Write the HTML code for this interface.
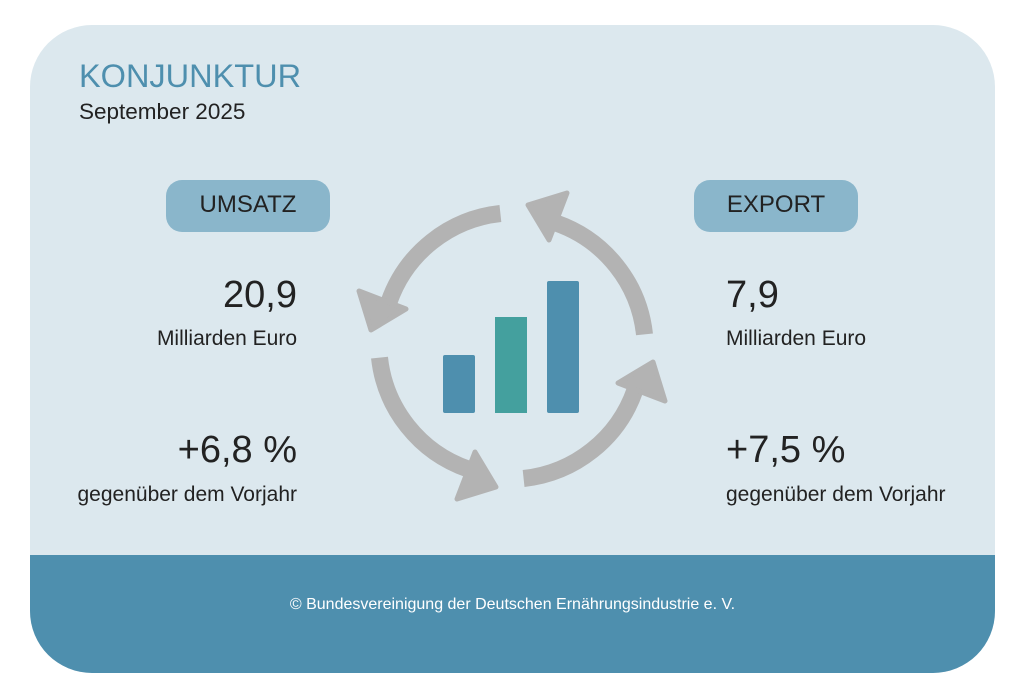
<!DOCTYPE html>
<html><head><meta charset="utf-8"><style>
body{margin:0;width:1024px;height:698px;background:#fff;position:relative;overflow:hidden;font-family:"Liberation Sans",sans-serif}
.card{position:absolute;left:30px;top:25px;width:965px;height:648px;border-radius:62px;background:#dce8ee;overflow:hidden}
.foot{position:absolute;left:0;top:530px;width:965px;height:118px;background:#4e8fae;color:#fff;font-size:16px;text-align:center;line-height:100px}
.t{position:absolute;white-space:nowrap;color:#222}
.pill{position:absolute;width:164px;height:52px;border-radius:16px;background:#8ab6cb;color:#222;font-size:24px;text-align:center;line-height:50px}
.r{text-align:right;width:300px}
</style></head><body>
<div class="card">
<div class="foot">© Bundesvereinigung der Deutschen Ernährungsindustrie e. V.</div>
</div>
<div class="t" style="left:79px;top:58px;font-size:32.5px;color:#4e8fae">KONJUNKTUR</div>
<div class="t" style="left:79px;top:99px;font-size:22.5px">September 2025</div>
<div class="pill" style="left:166px;top:180px">UMSATZ</div>
<div class="pill" style="left:694px;top:180px">EXPORT</div>
<div class="t r" style="left:-3px;top:274px;font-size:38px">20,9</div>
<div class="t r" style="left:-3px;top:327px;font-size:21px">Milliarden Euro</div>
<div class="t r" style="left:-3px;top:429px;font-size:38px">+6,8 %</div>
<div class="t r" style="left:-3px;top:483px;font-size:21px">gegenüber dem Vorjahr</div>
<div class="t" style="left:726px;top:274px;font-size:38px">7,9</div>
<div class="t" style="left:726px;top:327px;font-size:21px">Milliarden Euro</div>
<div class="t" style="left:726px;top:429px;font-size:38px">+7,5 %</div>
<div class="t" style="left:726px;top:483px;font-size:21px">gegenüber dem Vorjahr</div>
<svg width="1024" height="698" style="position:absolute;left:0;top:0">
<defs><g id="a">
<path d="M500.4,213.5 A133,133 0 0 0 389,302" fill="none" stroke="#b3b3b3" stroke-width="17"/>
<polygon points="359,291 406,309 371,330" fill="#b3b3b3" stroke="#b3b3b3" stroke-width="5" stroke-linejoin="round"/>
</g></defs>
<use href="#a"/>
<use href="#a" transform="rotate(-90 512 346)"/>
<use href="#a" transform="rotate(180 512 346)"/>
<use href="#a" transform="rotate(90 512 346)"/>
<rect x="443" y="355" width="32" height="58" rx="2" fill="#4e8fae"/>
<rect x="495" y="317" width="32" height="96" fill="#44a09e"/>
<rect x="547" y="281" width="32" height="132" rx="2" fill="#4e8fae"/>
</svg>
</body></html>
